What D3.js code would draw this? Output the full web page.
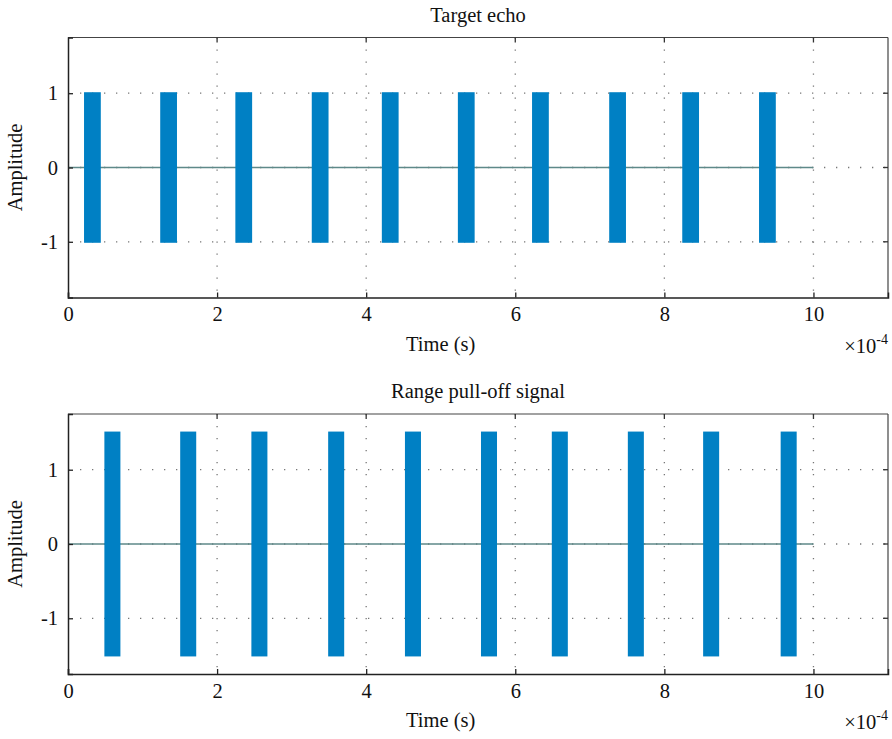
<!DOCTYPE html>
<html>
<head>
<meta charset="utf-8">
<script src="https://cdn.jsdelivr.net/npm/d3@7"></script>
<style>
  body { margin: 0; background: #fff; }
  text { font-family: "Liberation Serif", "DejaVu Serif", serif; fill: #111; }
</style>
</head>
<body>
<div id="chart"></div>
<script>
// pulse data (time in units of 1e-4 s)
const xTicks = [0, 2, 4, 6, 8, 10];
const yTicks = [-1, 0, 1];
const signalEnd = 10;

const echoTitle = "Target echo";
const echoStarts = [0.215, 1.237, 2.245, 3.27, 4.21, 5.23, 6.225, 7.26, 8.24, 9.27];
const echoWidth = 0.225;
const echoAmp = 1;

const pullTitle = "Range pull-off signal";
const pullStarts = [0.488, 1.505, 2.46, 3.49, 4.52, 5.54, 6.49, 7.51, 8.52, 9.56];
const pullWidth = 0.215;
const pullAmp = 1.5;

const W = 892, H = 739;
const left = 68, right = 888;
const fs = 20.5;

const svg = d3.select("#chart").append("svg")
    .attr("width", W).attr("height", H);

const x = d3.scaleLinear().domain([0, 11]).range([left, right]);

function drawPanel(top, bottom, title, starts, width, amp) {
    const y = d3.scaleLinear().domain([-1.75, 1.75]).range([bottom, top]);
    const g = svg.append("g");

    // grid
    g.selectAll(".gx").data(xTicks.filter(d => d > 0)).enter().append("line")
        .attr("x1", d => x(d)).attr("x2", d => x(d))
        .attr("y1", top).attr("y2", bottom)
        .attr("stroke", "#777").attr("stroke-width", 1.3)
        .attr("stroke-dasharray", "1.3,10.7");
    g.selectAll(".gy").data(yTicks).enter().append("line")
        .attr("x1", left).attr("x2", right)
        .attr("y1", d => y(d)).attr("y2", d => y(d))
        .attr("stroke", "#777").attr("stroke-width", 1.3)
        .attr("stroke-dasharray", "1.3,10.7");

    // zero line of the signal
    g.append("line")
        .attr("x1", x(0)).attr("x2", x(signalEnd))
        .attr("y1", y(0)).attr("y2", y(0))
        .attr("stroke", "#5e8989").attr("stroke-width", 1.6);

    // pulses
    g.selectAll(".pulse").data(starts).enter().append("rect")
        .attr("x", d => x(d))
        .attr("width", x(width) - x(0))
        .attr("y", y(amp) - 1)
        .attr("height", y(-amp) - y(amp) + 2)
        .attr("fill", "#0080c4");

    // box
    g.append("line").attr("x1", left).attr("x2", right).attr("y1", top).attr("y2", top)
        .attr("stroke", "#444").attr("stroke-width", 1.2);
    g.append("line").attr("x1", right).attr("x2", right).attr("y1", top).attr("y2", bottom)
        .attr("stroke", "#444").attr("stroke-width", 1.2);

    // axes
    const ax = g.append("g").attr("transform", `translate(0,${bottom})`)
        .call(d3.axisBottom(x).tickValues(xTicks).tickSize(-5).tickPadding(9).tickFormat(d3.format("d")));
    const ay = g.append("g").attr("transform", `translate(${left},0)`)
        .call(d3.axisLeft(y).tickValues(yTicks).tickSize(-5).tickPadding(10).tickFormat(d => d < 0 ? "-" + Math.abs(d) : d));
    [ax, ay].forEach(a => {
        a.select(".domain").attr("stroke", "#222").attr("stroke-width", 1.5);
        a.selectAll(".tick line").attr("stroke", "#222").attr("stroke-width", 1.3);
        a.selectAll(".tick text").attr("font-size", fs).attr("font-family", "Liberation Serif, serif").attr("fill", "#111");
    });

    // top and right ticks
    g.selectAll(".tt").data(xTicks.filter(d => d > 0)).enter().append("line")
        .attr("x1", d => x(d)).attr("x2", d => x(d))
        .attr("y1", top).attr("y2", top + 5)
        .attr("stroke", "#333").attr("stroke-width", 1.3);
    g.selectAll(".rt").data(yTicks).enter().append("line")
        .attr("x1", right).attr("x2", right - 5)
        .attr("y1", d => y(d)).attr("y2", d => y(d))
        .attr("stroke", "#333").attr("stroke-width", 1.3);

    // labels
    g.append("text").attr("x", (left + right) / 2).attr("y", top - 16)
        .attr("text-anchor", "middle").attr("font-size", fs).text(title);
    g.append("text").attr("x", x(5)).attr("y", bottom + 53)
        .attr("text-anchor", "middle").attr("font-size", fs).text("Time (s)");
    g.append("text")
        .attr("transform", `translate(22,${(top + bottom) / 2}) rotate(-90)`)
        .attr("text-anchor", "middle").attr("font-size", fs).text("Amplitude");
    const exp = g.append("text").attr("x", right).attr("y", bottom + 55)
        .attr("text-anchor", "end").attr("font-size", fs);
    exp.append("tspan").text("\u00d710");
    exp.append("tspan").attr("font-size", 14).attr("dy", -9).text("-4");
}

drawPanel(37.5, 297.5, echoTitle, echoStarts, echoWidth, echoAmp);
drawPanel(414, 674, pullTitle, pullStarts, pullWidth, pullAmp);
</script>
</body>
</html>
